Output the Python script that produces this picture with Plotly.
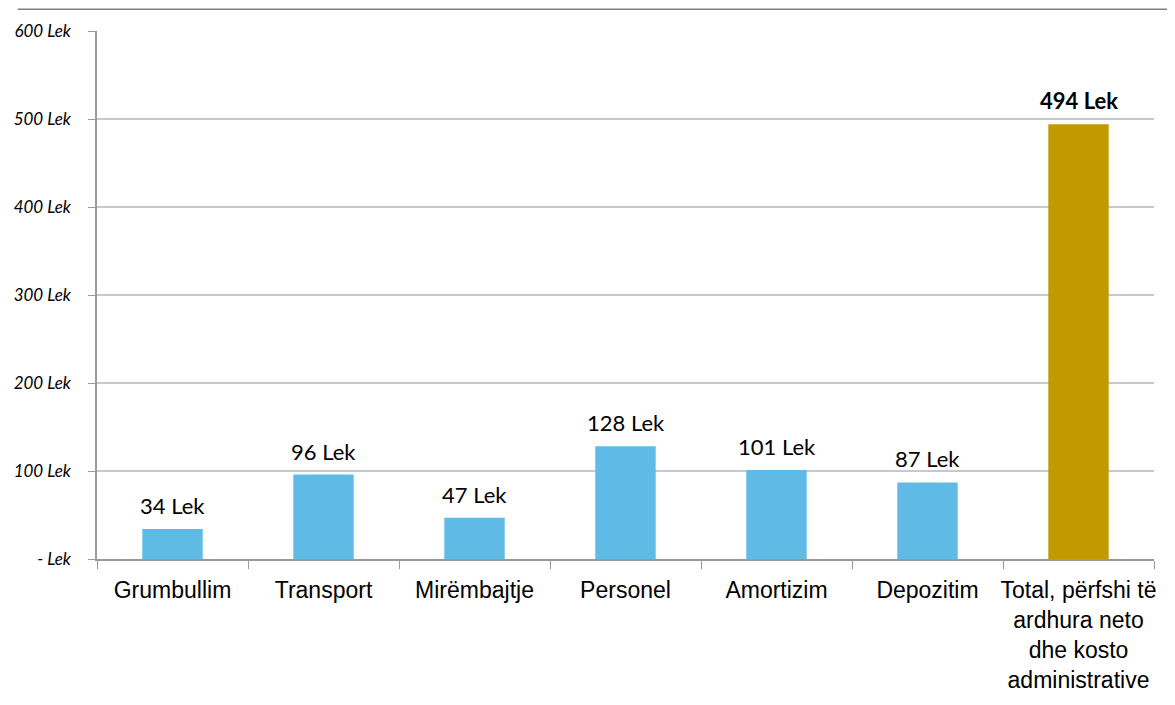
import plotly.graph_objects as go

categories = ["Grumbullim", "Transport", "Mirëmbajtje", "Personel", "Amortizim", "Depozitim",
              "Total, përfshi të<br>ardhura neto<br>dhe kosto<br>administrative"]
values = [34, 96, 47, 128, 101, 87, 494]
bar_colors = ["#5FBAE6"] * 6 + ["#C19A00"]
label_texts = ["34 Lek", "96 Lek", "47 Lek", "128 Lek", "101 Lek", "87 Lek", "<b>494 Lek</b>"]
y_tickvals = [0, 100, 200, 300, 400, 500, 600]
y_ticktext = ["- Lek", "100 Lek", "200 Lek", "300 Lek", "400 Lek", "500 Lek", "600 Lek"]

fig = go.Figure()
fig.add_trace(go.Bar(x=categories, y=values, marker=dict(color=bar_colors, line=dict(width=0)),
                     width=0.4, hoverinfo="skip"))

for c, v, t in zip(categories, values, label_texts):
    fig.add_annotation(x=c, y=v, text=t, showarrow=False, yanchor="bottom", yshift=8,
                       font=dict(family="Lato, Open Sans, sans-serif", size=22, color="#000"))

fig.add_shape(type="line", xref="paper", yref="paper", x0=-0.075, x1=1.03, y0=1.041, y1=1.041,
              line=dict(color="#808080", width=1.5))

fig.update_layout(
    width=1175, height=705,
    margin=dict(l=89, r=29, t=23, b=154, autoexpand=False),
    plot_bgcolor="white", paper_bgcolor="white",
    showlegend=False,
    xaxis=dict(type="category", tickson="boundaries", ticks="outside", ticklen=8,
               tickcolor="#999", showline=True, linecolor="#999", linewidth=1.5,
               tickfont=dict(family="Liberation Sans, Arial, sans-serif", size=23, color="#000"),
               tickangle=0, automargin=False,
               ticklabelstandoff=10, showgrid=False),
    yaxis=dict(range=[0, 600], tickvals=y_tickvals, ticktext=y_ticktext,
               ticks="outside", ticklen=7, tickcolor="#999", showline=True, linecolor="#999",
               linewidth=1.5, gridcolor="#C6C8D8", gridwidth=2, zeroline=False,
               automargin=False,
               tickfont=dict(family="Lato, Open Sans, sans-serif", size=17, color="#000",
                             style="italic"),
               ticklabelstandoff=14),
)

fig.write_html("out.html")
